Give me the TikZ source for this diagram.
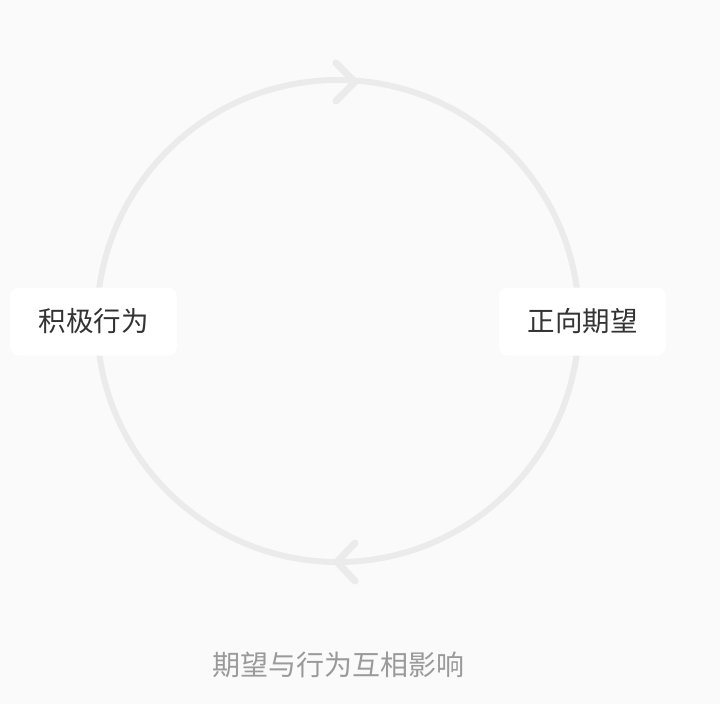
\documentclass[tikz,border=0pt]{standalone}
\usepackage{fontspec}
\setmainfont{Noto Sans CJK SC}
\definecolor{bgc}{HTML}{FAFAFA}
\definecolor{ringc}{HTML}{EBEBEB}
\definecolor{txtc}{HTML}{333333}
\definecolor{capc}{HTML}{9A9A9A}
\begin{document}
\begin{tikzpicture}[x=1pt,y=-1pt,
  ring/.style={draw=ringc,line width=6pt},
  chev/.style={draw=ringc,line width=7pt,line cap=round,line join=round},
  box/.style={fill=white,rounded corners=9pt,minimum width=167pt,minimum height=68pt,inner sep=0pt,text=txtc,font=\fontsize{27.5}{30}\selectfont},
  captext/.style={text=capc,font=\fontsize{28}{30}\selectfont,inner sep=0pt}]
\fill[bgc] (0,0) rectangle (720,704);
\useasboundingbox (0,0) rectangle (720,704);
\coordinate (c) at (338,321);
\draw[ring] (c) circle[radius=241];
\coordinate (t1) at (336,63);
\coordinate (ta) at (355,82);
\coordinate (t2) at (336,101);
\draw[chev] (t1) -- (ta) -- (t2);
\coordinate (b1) at (355,543);
\coordinate (ba) at (337,562);
\coordinate (b2) at (355,581);
\draw[chev] (b1) -- (ba) -- (b2);
\node[box] (left) at (93.5,321.5) {积极行为};
\node[box] (right) at (582.5,321.5) {正向期望};
\node[captext] (cap) at (338,665) {期望与行为互相影响};
\end{tikzpicture}
\end{document}
